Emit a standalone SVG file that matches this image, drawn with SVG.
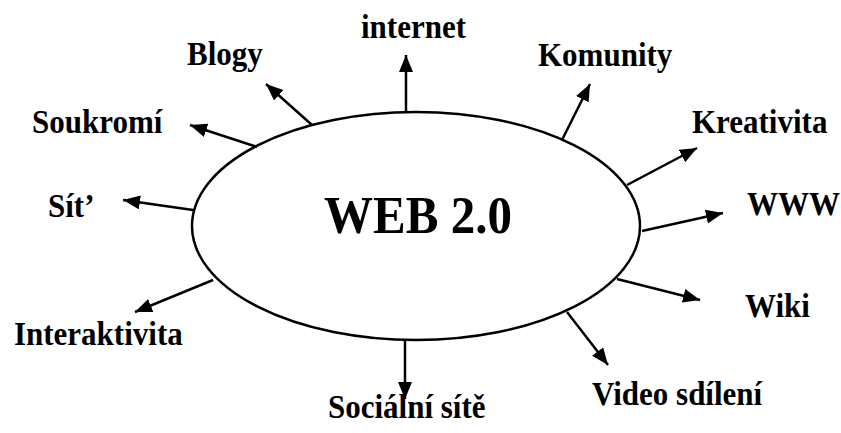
<svg xmlns="http://www.w3.org/2000/svg" width="841" height="433" viewBox="0 0 841 433">
<style>
.lbl{font-family:"Liberation Serif","Times New Roman",serif;font-weight:bold;font-size:31px;fill:#000}
.title{font-family:"Liberation Serif","Times New Roman",serif;font-weight:bold;font-size:49px;fill:#000}
.conn line{stroke:#000;stroke-width:2.5;marker-end:url(#ah)}
</style>
<defs>
<marker id="ah" markerUnits="userSpaceOnUse" markerWidth="18" markerHeight="15" refX="17" refY="7" orient="auto">
<path d="M0,0 L17,7 L0,14 z" fill="#000"/>
</marker>
</defs>
<g id="center">
<ellipse cx="416" cy="226" rx="224" ry="114" fill="#fff" stroke="#000" stroke-width="2.5"/>
<text class="title" x="418" y="0" text-anchor="middle" transform="translate(0,233) scale(1,1.08)">WEB 2.0</text>
</g>
<g class="conn" id="connectors">
<line x1="406" y1="113" x2="406" y2="55"/>
<line x1="312" y1="125" x2="266" y2="84"/>
<line x1="257" y1="147" x2="190" y2="125"/>
<line x1="193" y1="210" x2="123" y2="200"/>
<line x1="213" y1="280" x2="135" y2="312"/>
<line x1="405" y1="340" x2="405" y2="399"/>
<line x1="567" y1="312" x2="608" y2="365"/>
<line x1="617" y1="279" x2="700" y2="300"/>
<line x1="642" y1="231" x2="723" y2="213"/>
<line x1="627" y1="185" x2="697" y2="148"/>
<line x1="562" y1="140" x2="590" y2="84"/>
</g>
<g id="n-internet"><text class="lbl" x="361" y="0" transform="translate(0,38) scale(1,1.07)">internet</text></g>
<g id="n-blogy"><text class="lbl" x="187" y="0" transform="translate(0,65) scale(1,1.07)">Blogy</text></g>
<g id="n-komunity"><text class="lbl" x="538" y="0" transform="translate(0,66) scale(1,1.07)">Komunity</text></g>
<g id="n-soukromi"><text class="lbl" x="32" y="0" transform="translate(0,133) scale(1,1.07)">Soukromí</text></g>
<g id="n-kreativita"><text class="lbl" x="692" y="0" transform="translate(0,133) scale(1,1.07)">Kreativita</text></g>
<g id="n-sit"><text class="lbl" x="48" y="0" transform="translate(0,217) scale(1,1.07)">Sít’</text></g>
<g id="n-www"><text class="lbl" x="747" y="0" transform="translate(0,215) scale(1,1.07)">WWW</text></g>
<g id="n-interaktivita"><text class="lbl" x="14" y="0" transform="translate(0,345) scale(1,1.07)">Interaktivita</text></g>
<g id="n-wiki"><text class="lbl" x="745" y="0" transform="translate(0,317) scale(1,1.07)">Wiki</text></g>
<g id="n-video"><text class="lbl" x="592" y="0" transform="translate(0,405) scale(1,1.07)">Video sdílení</text></g>
<g id="n-socialni"><text class="lbl" x="328" y="0" transform="translate(0,418) scale(1,1.07)">Sociální sítě</text></g>
</svg>
